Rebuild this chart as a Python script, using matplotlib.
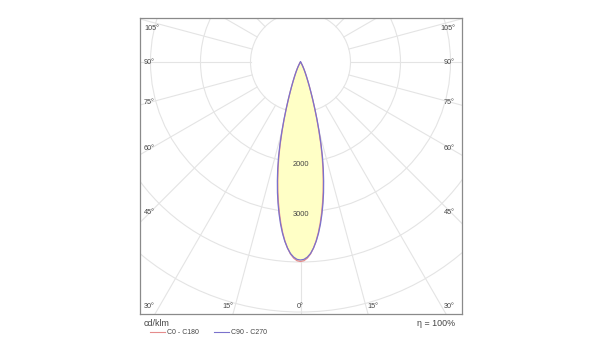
import numpy as np
import matplotlib
matplotlib.use("Agg")
import matplotlib.pyplot as plt
from matplotlib.patches import Circle
from matplotlib.lines import Line2D

plt.rcParams['font.family'] = ['Liberation Sans', 'DejaVu Sans']

# ---- data (cd/klm) ----
gamma = [0, 1, 2, 3, 4, 5, 6, 7, 8, 9, 10, 11, 12, 13, 14, 15, 16, 17, 18, 19, 20,
         21, 22, 23, 24, 25, 26, 27, 28, 29, 30, 32, 35, 40, 45, 50, 60, 70, 80, 90]
c0_c180 = [3990, 3975, 3925, 3845, 3730, 3590, 3425, 3240, 3040, 2830, 2610, 2380, 2150, 1915, 1660,
           1410, 1180, 965, 785, 635, 515, 415, 338, 276, 225, 182, 146, 116, 92, 72, 56, 34, 16, 6, 2,
           0, 0, 0, 0, 0]
c90_c270 = [3960, 3948, 3905, 3835, 3730, 3600, 3445, 3270, 3075, 2870, 2655, 2425, 2195, 1955, 1700,
            1445, 1205, 985, 800, 645, 520, 418, 340, 277, 226, 182, 146, 116, 92, 72, 56, 34, 16, 6, 2,
            0, 0, 0, 0, 0]
ring_values = [1000, 2000, 3000, 4000, 5000, 6000]
ring_labels = [2000, 3000]
side_angles = [30, 45, 60, 75, 90, 105]
bottom_angles = [15, 0]
unit_label = "cd/klm"
eff_label = "η = 100%"
legend_names = ["C0 - C180", "C90 - C270"]

W, H = 600, 360
fig = plt.figure(figsize=(6, 3.6), dpi=100)

# pixel geometry of frame
L, R, T, B = 139.5, 461.5, 18.0, 313.5
cx, cy = 300.5, 62.0
s = 20.0  # cd/klm per pixel

ax = fig.add_axes([L / W, 1 - B / H, (R - L) / W, (B - T) / H])
ax.set_xlim((L - cx) * s, (R - cx) * s)
ax.set_ylim(-(B - cy) * s, (cy - T) * s)
ax.set_xticks([])
ax.set_yticks([])
for sp in ax.spines.values():
    sp.set_color('#8a8a8a')
    sp.set_linewidth(0.9)

grid_c = '#e4e4e4'
for rv in ring_values:
    ax.add_patch(Circle((0, 0), rv, fill=False, ec=grid_c, lw=0.8, zorder=1))
for a in range(0, 360, 15):
    t = np.radians(a)
    ax.plot([ring_values[0] * np.sin(t), 9000 * np.sin(t)],
            [-ring_values[0] * np.cos(t), -9000 * np.cos(t)],
            color=grid_c, lw=0.8, zorder=1)


def curve(vals):
    g = np.radians(np.array(gamma, dtype=float))
    v = np.array(vals, dtype=float)
    # right half (C0 / C90), then left half (C180 / C270) mirrored
    xr, yr = v * np.sin(g), -v * np.cos(g)
    x = np.concatenate([-xr[::-1], xr[1:]])
    y = np.concatenate([yr[::-1], yr[1:]])
    return x, y


xr_, yr_ = curve(c0_c180)
xb_, yb_ = curve(c90_c270)
ax.fill(xr_, yr_, color='#ffffc6', zorder=2, lw=0)
ax.plot(xr_, yr_, color='#e58c8c', lw=0.9, zorder=3)
ax.plot(xb_, yb_, color='#7b72cc', lw=0.9, zorder=3)

txt_c = '#444444'
for rv in ring_labels:
    ax.text(0, -(rv + 55), f"{rv}", ha='center', va='center', fontsize=5.4, color=txt_c, zorder=4)

# angle labels on the sides
fs_a = 5.2
xs = 150 * s
for a in side_angles:
    t = np.radians(a)
    y = -xs * np.cos(t) / np.sin(t)
    y = min(max(y, -(306 - cy) * s), (cy - 29) * s)
    ax.text((455 - cx) * s, y, f"{a}°", ha='right', va='center', fontsize=fs_a, color=txt_c)
    ax.text((144 - cx) * s, y, f"{a}°", ha='left', va='center', fontsize=fs_a, color=txt_c)
yb = -(306 - cy) * s
for a in bottom_angles:
    t = np.radians(a)
    xb = (B - cy) * s * np.tan(t)
    if a == 0:
        ax.text(0, yb, f"{a}°", ha='center', va='center', fontsize=fs_a, color=txt_c)
    else:
        ax.text(xb, yb, f"{a}°", ha='left', va='center', fontsize=fs_a, color=txt_c)
        ax.text(-xb, yb, f"{a}°", ha='right', va='center', fontsize=fs_a, color=txt_c)


def fx(p):
    return p / W


def fy(p):
    return 1 - p / H


fig.text(fx(144), fy(324), unit_label, ha='left', va='center', fontsize=6.4, color=txt_c)
fig.text(fx(455), fy(324), eff_label, ha='right', va='center', fontsize=6.4, color=txt_c)
fig.add_artist(Line2D([fx(150), fx(165)], [fy(332), fy(332)], color='#e58c8c', lw=0.8))
fig.text(fx(166.5), fy(332.5), legend_names[0], ha='left', va='center', fontsize=5.0, color=txt_c)
fig.add_artist(Line2D([fx(214), fx(229)], [fy(332), fy(332)], color='#7b72cc', lw=0.8))
fig.text(fx(231), fy(332.5), legend_names[1], ha='left', va='center', fontsize=5.0, color=txt_c)

fig.savefig('out.png', dpi=100, facecolor='white')
